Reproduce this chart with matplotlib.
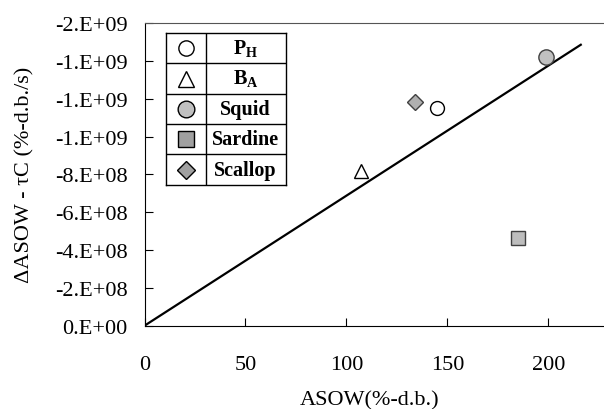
import matplotlib
matplotlib.use("Agg")
import matplotlib.pyplot as plt
import numpy as np

plt.rcParams['font.family'] = ['Liberation Serif', 'DejaVu Serif']
plt.rcParams['mathtext.fontset'] = 'custom'
plt.rcParams['mathtext.rm'] = 'Liberation Serif'
plt.rcParams['mathtext.bf'] = 'Liberation Serif:bold'

# ---- data ----
labels = [r'$\mathbf{P}_\mathbf{H}$', r'$\mathbf{B}_\mathbf{A}$', 'Squid', 'Sardine', 'Scallop']
asow = [145, 107, 199, 185, 134]
delta = [-1.15e9, -8.2e8, -1.42e9, -4.62e8, -1.18e9]
fit_x = [0, 216]
fit_y = [0, -1.485e9]
xticks = [0, 50, 100, 150, 200]
yticks = [0, -2e8, -4e8, -6e8, -8e8, -1.0e9, -1.2e9, -1.4e9, -1.6e9]

# ---- styles ----
markers = ['o', '^', 'o', 's', 'D']
faces = ['white', 'white', '#C0C0C0', '#BDBDBD', '#B0B0B0']
edges = ['black', 'black', '#404040', '#404040', '#404040']
sizes = [10, 10, 11, 10, 8.5]
leg_faces = ['white', 'white', '#C0C0C0', '#A0A0A0', '#A0A0A0']


def yfmt(v):
    s = '{:.0E}'.format(v)
    return s.replace('E', '.E')


W, H = 604, 410
fig = plt.figure(figsize=(W / 100, H / 100), dpi=100)
ax = fig.add_axes([144.5 / W, (H - 326.7) / H, (W - 144.5) / W, (326.7 - 24) / H])

ax.plot(fit_x, fit_y, color='black', lw=1.6, zorder=2)
for i in range(len(asow)):
    ax.plot(asow[i], delta[i], marker=markers[i], ms=sizes[i], mfc=faces[i],
            mec=edges[i], mew=1.0, ls='none', zorder=3)

ax.set_xlim(0, 227.5)
ax.set_ylim(0, -1.6e9)
ax.set_xticks(xticks)
ax.set_xticklabels([str(v) for v in xticks])
ax.set_yticks(yticks)
ax.set_yticklabels([yfmt(v) for v in yticks])
ax.tick_params(direction='in', length=5.5, width=0.8, labelsize=16)
ax.tick_params(axis='x', pad=21)
ax.tick_params(axis='y', pad=12)
ax.spines['right'].set_visible(False)
for s in ['left', 'bottom', 'top']:
    ax.spines[s].set_linewidth(0.8)
ax.spines['top'].set_color('#555555')

fig.text(370 / W, 1 - 401 / H, 'ASOW(%-d.b.)', ha='center', va='center', fontsize=16)
fig.text(25 / W, 1 - 175 / H, 'ΔASOW - τC (%-d.b./s)', ha='center', va='center',
         rotation=90, fontsize=16)

# ---- table-style legend ----
lx0, lx1, ly0, ly1 = 166, 285.7, 34, 185.7
lax = fig.add_axes([lx0 / W, (H - ly1) / H, (lx1 - lx0) / W, (ly1 - ly0) / H])
lax.set_xlim(0, 1)
lax.set_ylim(5, 0)
lax.set_xticks([])
lax.set_yticks([])
for s in lax.spines.values():
    s.set_linewidth(1.0)
div = (205.7 - lx0) / (lx1 - lx0)
lax.plot([div, div], [0, 5], color='black', lw=1.0)
for r in range(1, 5):
    lax.plot([0, 1], [r, r], color='black', lw=1.0)
for i in range(len(labels)):
    lax.plot(div / 2, i + 0.5, marker=markers[i], ms=sizes[i] + 1, mfc=leg_faces[i],
             mec='black', mew=1.0, ls='none')
    lax.text((div + 1) / 2, i + 0.5, labels[i], ha='center', va='center',
             fontsize=14.5, fontweight='bold')

fig.savefig('out.png', dpi=100)
